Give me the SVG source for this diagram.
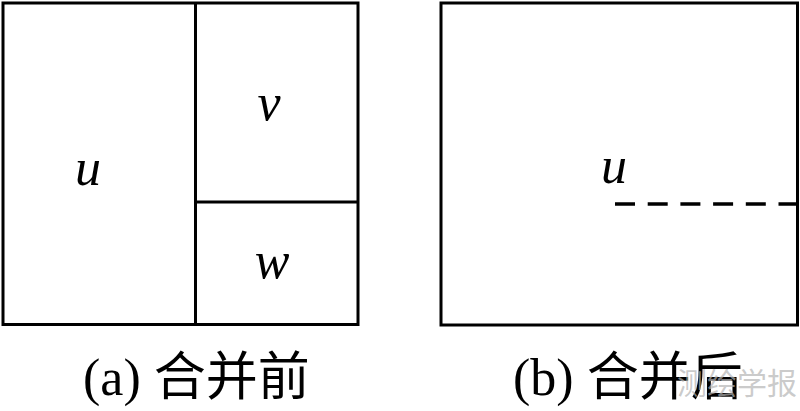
<svg xmlns="http://www.w3.org/2000/svg" width="800" height="411" viewBox="0 0 800 411">
<style>
.box{fill:none;stroke:#000;stroke-width:3}
.ln{stroke:#000;stroke-width:3;fill:none}
.dash{stroke:#000;stroke-width:3.5;stroke-dasharray:20 12.7}
.var{font-family:"Liberation Serif","Times New Roman",serif;font-style:italic;font-size:52px;fill:#000;text-anchor:middle}
.cap{font-family:"Liberation Serif","Noto Sans CJK SC",serif;font-size:52px;fill:#000}
.wm{font-family:"Noto Sans CJK SC","Noto Sans",sans-serif;font-size:30px;fill:#b4b4b4;fill-opacity:0.7}
</style>
<rect width="800" height="411" fill="#fff"/>
<g id="panel-a">
  <rect class="box" x="3" y="3" width="355" height="321.5"/>
  <g id="node-u-a">
    <text class="var" x="88" y="185">u</text>
  </g>
  <g id="node-v">
    <text class="var" x="269" y="120">v</text>
  </g>
  <g id="node-w">
    <text class="var" x="272" y="278">w</text>
  </g>
  <g id="dividers-a">
    <line class="ln" x1="195.5" y1="3" x2="195.5" y2="324.5"/>
    <line class="ln" x1="195.5" y1="202" x2="358" y2="202"/>
  </g>
  <text class="cap" x="83" y="395">(a) 合并前</text>
</g>
<g id="panel-b">
  <rect class="box" x="441" y="3" width="356.5" height="322"/>
  <g id="node-u-b">
    <text class="var" x="614" y="183">u</text>
  </g>
  <g id="connectors">
    <line class="dash" x1="615" y1="204" x2="797" y2="204"/>
  </g>
  <text class="cap" x="513" y="395">(b) 合并后</text>
</g>
<text class="wm" x="677" y="394">测绘学报</text>
</svg>
